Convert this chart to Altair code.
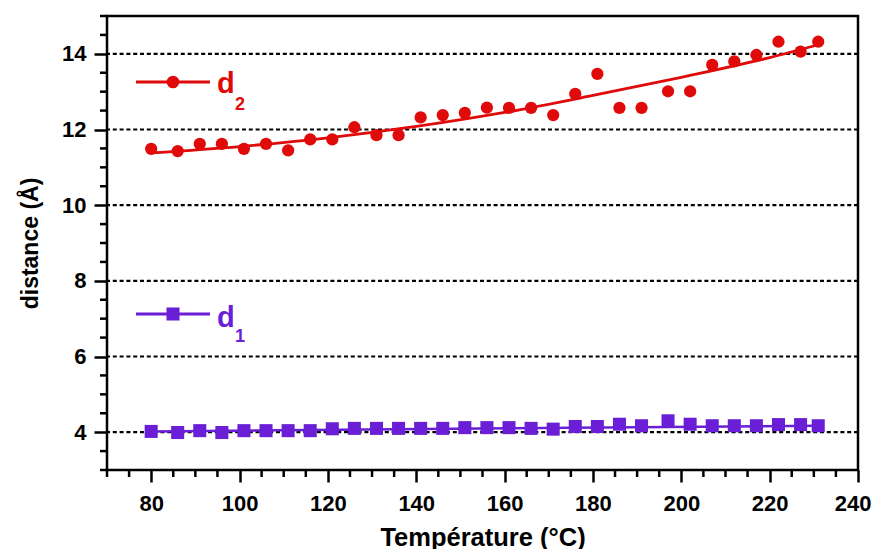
import altair as alt
import pandas as pd

# ---- data ----
temps = [80, 86, 91, 96, 101, 106, 111, 116, 121, 126, 131, 136, 141, 146, 151,
         156, 161, 166, 171, 176, 181, 186, 191, 197, 202, 207, 212, 217, 222, 227, 231]
d2 = [11.49, 11.43, 11.62, 11.62, 11.49, 11.62, 11.45, 11.74, 11.74, 12.06, 11.85,
      11.85, 12.32, 12.38, 12.44, 12.58, 12.57, 12.57, 12.38, 12.94, 13.47, 12.57,
      12.57, 13.01, 13.01, 13.71, 13.80, 13.97, 14.32, 14.06, 14.32]
d1 = [4.02, 3.99, 4.04, 3.99, 4.04, 4.04, 4.04, 4.04, 4.09, 4.10, 4.10, 4.10, 4.10,
      4.10, 4.12, 4.12, 4.12, 4.10, 4.08, 4.15, 4.15, 4.21, 4.17, 4.30, 4.21, 4.17,
      4.17, 4.17, 4.20, 4.20, 4.17]
fit2_t = [80, 100, 120, 140, 160, 180, 200, 220, 231]
fit2_v = [11.38, 11.55, 11.78, 12.08, 12.45, 12.90, 13.38, 13.90, 14.24]
fit1_t = [80, 231]
fit1_v = [4.02, 4.17]

x_major = [80, 100, 120, 140, 160, 180, 200, 220, 240]
x_minor = [70, 75, 85, 90, 95, 105, 110, 115, 125, 130, 135, 145, 150, 155, 165,
           170, 175, 185, 190, 195, 205, 210, 215, 225, 230, 235]
y_major = [4, 6, 8, 10, 12, 14]
y_minor = [3, 3.5, 4.5, 5, 5.5, 6.5, 7, 7.5, 8.5, 9, 9.5, 10.5, 11, 11.5, 12.5,
           13, 13.5, 14.5, 15]
series_names = ["d", "d"]
subscripts = ["2", "1"]

RED = "#e00a0a"
PURPLE = "#6a1fd6"
FONT = "Liberation Sans"

W, H = 751, 454
xs = alt.Scale(domain=[70, 240], nice=False, zero=False)
ys = alt.Scale(domain=[3, 15], nice=False, zero=False)

pts = pd.DataFrame({"t": temps, "d2": d2, "d1": d1})
fit2 = pd.DataFrame({"t": fit2_t, "v": fit2_v})
fit1 = pd.DataFrame({"t": fit1_t, "v": fit1_v})
one = pd.DataFrame({"a": [0]})

xaxis = alt.Axis(values=x_major, domain=False, grid=False, tickSize=12, tickWidth=2.5,
                 tickColor="black", labelFont=FONT, labelFontSize=22, labelFontWeight="bold",
                 labelColor="black", labelPadding=11, title="Température (°C)", titleFont=FONT,
                 titleFontSize=25.5, titleFontWeight="bold", titleColor="black",
                 titlePadding=11, labelFlush=True, labelFlushOffset=13)
yaxis = alt.Axis(values=y_major, domain=False, grid=False, tickSize=13, tickWidth=2.5,
                 tickColor="black", labelFont=FONT, labelFontSize=22, labelFontWeight="bold",
                 labelColor="black", labelPadding=8, title="distance (Å)", titleFont=FONT,
                 titleFontSize=23, titleFontWeight="bold", titleColor="black",
                 titlePadding=19, labelFlush=False)

grid = alt.Chart(pd.DataFrame({"g": y_major})).mark_rule(
    color="black", strokeWidth=2.2, strokeDash=[4, 2.8]
).encode(y=alt.Y("g:Q", scale=ys, axis=yaxis))

xminor = alt.Chart(pd.DataFrame({"t": x_minor})).mark_rule(
    color="black", strokeWidth=2.5
).encode(x=alt.X("t:Q", scale=xs, axis=xaxis), y=alt.value(H), y2=alt.value(H + 7))

yminor = alt.Chart(pd.DataFrame({"g": y_minor})).mark_rule(
    color="black", strokeWidth=2.5
).encode(y=alt.Y("g:Q", scale=ys), x=alt.value(-7), x2=alt.value(0))

fit2_line = alt.Chart(fit2).mark_line(color=RED, strokeWidth=2.8, interpolate="monotone").encode(
    x=alt.X("t:Q", scale=xs), y=alt.Y("v:Q", scale=ys))
fit1_line = alt.Chart(fit1).mark_line(color=PURPLE, strokeWidth=2.5).encode(
    x=alt.X("t:Q", scale=xs), y=alt.Y("v:Q", scale=ys))

d2_pts = alt.Chart(pts).mark_point(shape="circle", filled=True, size=150, color=RED,
                                   opacity=1).encode(
    x=alt.X("t:Q", scale=xs), y=alt.Y("d2:Q", scale=ys))
d1_pts = alt.Chart(pts).mark_point(shape="square", filled=True, size=170, color=PURPLE,
                                   opacity=1).encode(
    x=alt.X("t:Q", scale=xs), y=alt.Y("d1:Q", scale=ys))

# ---- hand-drawn legend inside the plot ----
def legend(color, shape, ly, name, sub, dy_name, dy_sub):
    line = alt.Chart(one).mark_rule(color=color, strokeWidth=2.8).encode(
        x=alt.value(29), x2=alt.value(103), y=alt.value(ly))
    mk = alt.Chart(one).mark_point(shape=shape, filled=True, size=170 if shape == "square" else 160,
                                   color=color, opacity=1).encode(
        x=alt.value(66), y=alt.value(ly))
    t1 = alt.Chart(one).mark_text(color=color, font=FONT, fontSize=29, fontWeight="bold",
                                  align="left", baseline="alphabetic").encode(
        x=alt.value(110), y=alt.value(ly + dy_name), text=alt.value(name))
    t2 = alt.Chart(one).mark_text(color=color, font=FONT, fontSize=18, fontWeight="bold",
                                  align="left", baseline="alphabetic").encode(
        x=alt.value(128), y=alt.value(ly + dy_sub), text=alt.value(sub))
    return [line, mk, t1, t2]

leg = legend(RED, "circle", 66, series_names[0], subscripts[0], 11, 28) + \
      legend(PURPLE, "square", 298, series_names[1], subscripts[1], 13, 28)

chart = alt.layer(grid, xminor, yminor, fit2_line, fit1_line, d2_pts, d1_pts, *leg).properties(
    width=W, height=H,
    autosize=alt.AutoSizeParams(type="none"),
    padding={"left": 99, "top": 8, "right": 14, "bottom": 79},
    background="white",
).configure_view(stroke="black", strokeWidth=2.5)

chart.save("out.html", embed_options={"renderer": "svg", "actions": False})
